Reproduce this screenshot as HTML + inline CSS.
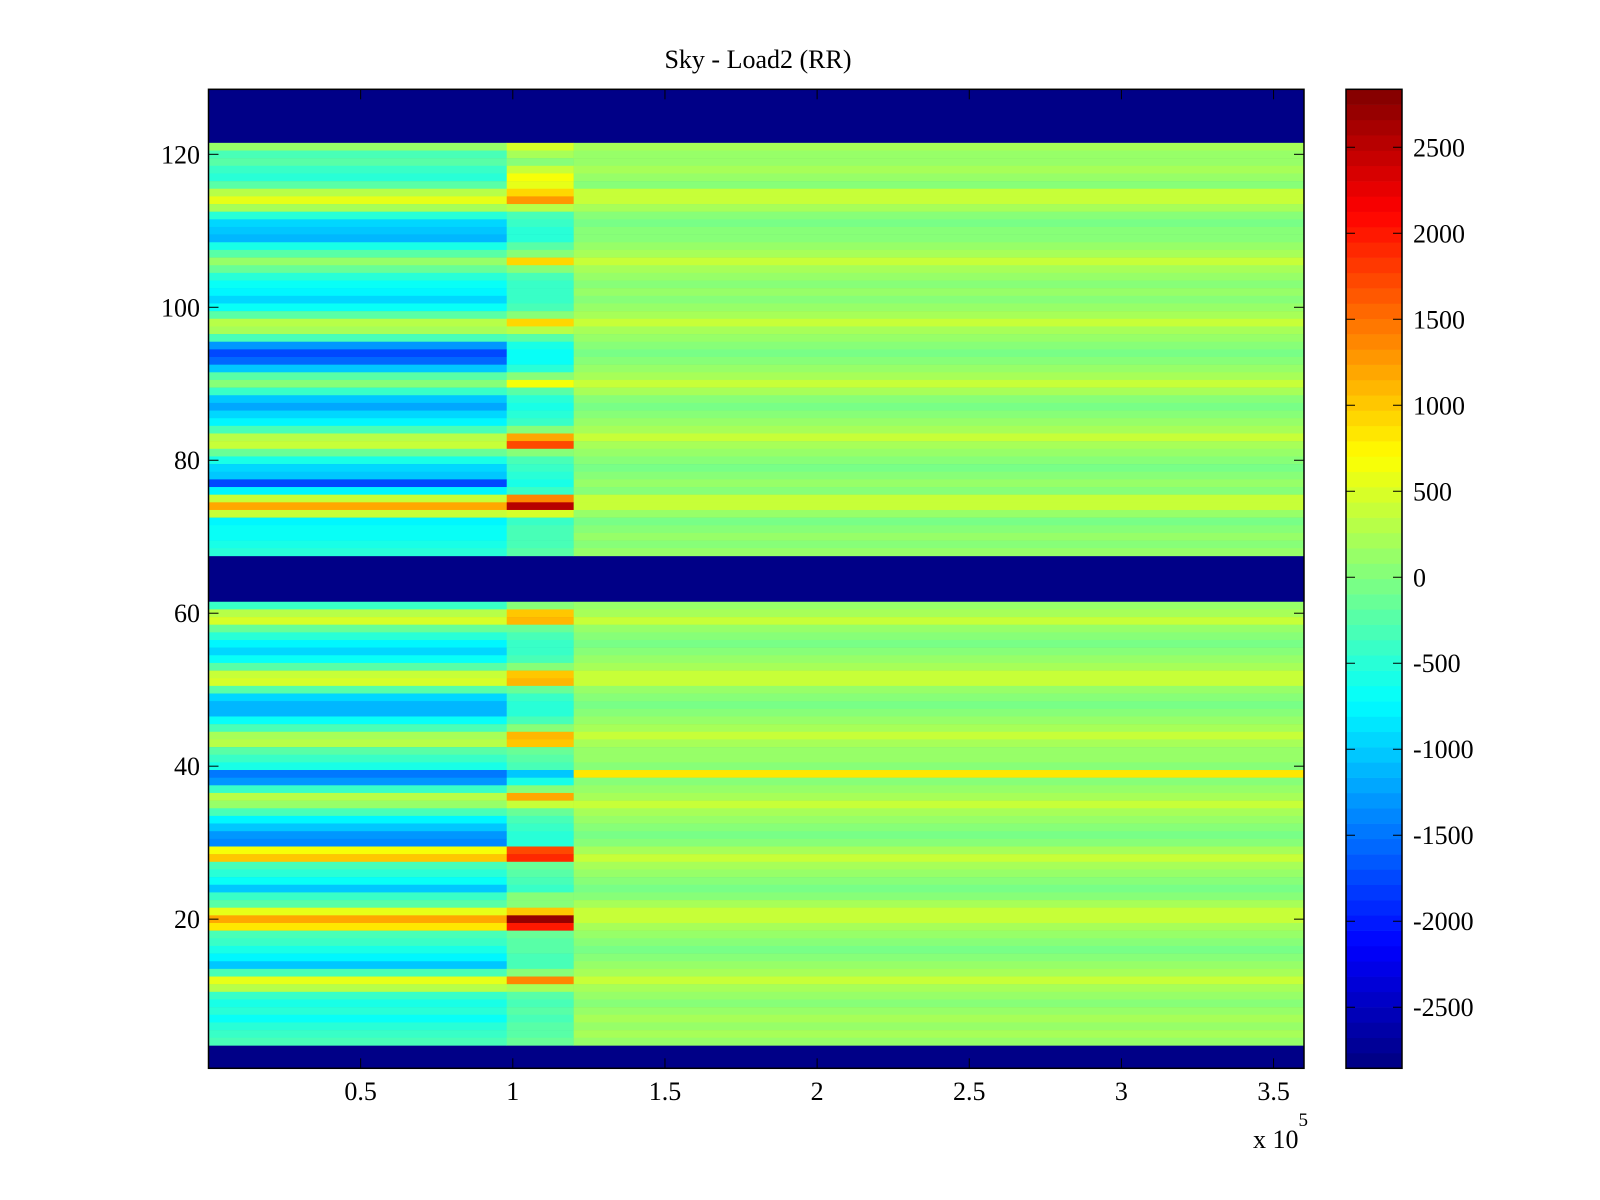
<!DOCTYPE html>
<html><head><meta charset="utf-8"><style>
html,body{margin:0;padding:0;background:#fff;}
svg{display:block;}
text{font-family:"Liberation Serif",serif;font-size:26px;fill:#000;}
</style></head><body>
<svg id="chart" width="1600" height="1200" viewBox="0 0 1600 1200">
<text x="758" y="68" text-anchor="middle" font-size="27">Sky - Load2 (RR)</text>
<g id="cells"></g>
<g id="cbar"></g>
<g id="axes"></g>
<text x="1253" y="1148">x 10<tspan dy="-22" font-size="19">5</tspan></text>
</svg>
<script>
const rowNums = [121,120,119,118,117,116,115,114,113,112,111,110,109,108,107,106,105,104,103,102,101,100,99,98,97,96,95,94,93,92,91,90,89,88,87,86,85,84,83,82,81,80,79,78,77,76,75,74,73,72,71,70,69,68,
61,60,59,58,57,56,55,54,53,52,51,50,49,48,47,46,45,44,43,42,41,40,39,38,37,36,35,34,33,32,31,30,29,28,27,26,25,24,23,22,21,20,19,18,17,16,15,14,13,12,11,10,9,8,7,6,5,4];
const segEdges = [0, 0.98e5, 1.2e5, 3.6e5];
const segA = [100,-300,-200,-400,-500,-200,300,600,200,-500,
-900,-1000,-1100,-600,-200,100,-100,-500,-700,-800,
-900,-700,-200,300,200,-300,-1300,-1700,-1600,-1000,
-200,0,-400,-1000,-1200,-900,-800,-300,300,400,
-100,-600,-900,-1000,-1700,-800,400,1200,400,-800,
-700,-700,-600,-500,
-400,300,500,-100,-500,-800,-900,-700,-200,400,
500,-200,-900,-1100,-1100,-700,-300,200,300,-200,
-400,-600,-1500,-1300,-400,300,100,-300,-800,-1000,
-1300,-1400,700,1000,-300,-500,-700,-1000,-400,-200,
600,1200,800,-300,-400,-600,-800,-1000,-300,600,
300,-400,-600,-500,-700,-500,-400,-300];
const segB = [500,200,0,400,700,600,900,1300,300,-300,
-400,-500,-500,-200,0,900,0,-300,-400,-400,
-400,-300,0,900,300,-200,-600,-700,-700,-500,
0,700,-200,-500,-600,-500,-400,0,1200,1700,
0,-300,-400,-500,-600,-400,1400,2500,500,-400,
-300,-300,-300,-200,
0,1000,1100,-100,-300,-400,-400,-300,0,1000,
1100,-100,-400,-500,-500,-300,0,1100,1000,-100,
-200,-300,-1000,-600,0,1200,400,-100,-300,-400,
-500,-500,1700,1900,-100,-200,-300,-400,0,0,
1000,2700,2000,-100,-200,-200,-300,-300,0,1400,
200,-200,-300,-200,-300,-200,-200,-100];
const segC = [250,150,150,250,150,50,350,350,250,50,
-50,50,50,150,250,350,250,150,50,150,
50,150,250,350,250,150,50,-50,50,150,
250,350,250,50,-50,50,150,250,350,250,
150,50,-50,50,150,50,350,350,150,-50,
50,150,50,150,
150,250,350,150,50,-50,50,150,250,350,
350,150,50,-50,50,150,250,350,250,150,
150,50,800,50,150,250,350,250,150,50,
-50,50,250,350,250,150,50,-50,50,250,
350,350,250,150,50,-50,50,150,250,350,
250,150,50,150,250,150,250,150];
const xTicks = [0.5e5,1e5,1.5e5,2e5,2.5e5,3e5,3.5e5];
const xTickLabels = ["0.5","1","1.5","2","2.5","3","3.5"];
const yTicks = [20,40,60,80,100,120];
const cTicks = [-2500,-2000,-1500,-1000,-500,0,500,1000,1500,2000,2500];
const cMin = -2855, cMax = 2837;

const L=208.5,R=1304,T=89.3,B=1068.3;
const xMin=0,xMax=3.6e5,yMin=0.5,yMax=128.5;
const X=v=>L+(v-xMin)/(xMax-xMin)*(R-L);
const Y=v=>B-(v-yMin)/(yMax-yMin)*(B-T);
const CB={l:1346,r:1402,t:89.3,b:1068.3};
const CY=v=>CB.b-(v-cMin)/(cMax-cMin)*(CB.b-CB.t);
function jet(t){t=Math.max(0,Math.min(1,t));
 const f=x=>Math.max(0,Math.min(1,x));
 const r=f(1.5-Math.abs(4*t-3)),g=f(1.5-Math.abs(4*t-2)),b=f(1.5-Math.abs(4*t-1));
 return `rgb(${Math.round(r*255)},${Math.round(g*255)},${Math.round(b*255)})`;}
function col(v){const idx=Math.min(63,Math.floor((v-cMin)/(cMax-cMin)*64));return jet((idx+0.5)/64);}
const NS="http://www.w3.org/2000/svg";
function mk(tag,attrs,parent){const e=document.createElementNS(NS,tag);for(const k in attrs)e.setAttribute(k,attrs[k]);parent.appendChild(e);return e;}
const cells=document.getElementById('cells');
const bg=mk('rect',{x:L,y:T,width:R-L,height:B-T,fill:col(cMin)},cells);


const segs=[segA,segB,segC];
rowNums.forEach((rn,i)=>{
 segs.forEach((s,j)=>{
  const x0=X(segEdges[j]),x1=X(segEdges[j+1]);
  const r=mk('rect',{x:x0,y:Y(rn+0.5),width:x1-x0+0.3,height:Y(rn-0.5)-Y(rn+0.5)+0.3,fill:col(s[i])},cells);
  
  
 });
});
const axes=document.getElementById('axes');
const frame=mk('rect',{x:L,y:T,width:R-L,height:B-T,fill:'none',stroke:'#000','stroke-width':1.5},axes);


xTicks.forEach((v,i)=>{
 const x=X(v);
 mk('line',{x1:x,x2:x,y1:B,y2:B-10,stroke:'#000'},axes);
 mk('line',{x1:x,x2:x,y1:T,y2:T+10,stroke:'#000'},axes);
 const t=mk('text',{x:x,y:1100,'text-anchor':'middle'},axes);
 t.textContent=xTickLabels[i];
 
 
});
yTicks.forEach(v=>{
 const y=Y(v);
 mk('line',{x1:L,x2:L+10,y1:y,y2:y,stroke:'#000'},axes);
 mk('line',{x1:R,x2:R-10,y1:y,y2:y,stroke:'#000'},axes);
 const t=mk('text',{x:200,y:y+9,'text-anchor':'end'},axes);
 t.textContent=String(v);
 
 
});
const cbar=document.getElementById('cbar');
for(let k=0;k<64;k++){
 const v0=cMin+k*(cMax-cMin)/64,v1=cMin+(k+1)*(cMax-cMin)/64;
 const r=mk('rect',{x:CB.l,y:CY(v1),width:CB.r-CB.l,height:CY(v0)-CY(v1)+0.3,fill:jet((k+0.5)/64)},cbar);
 
 
}
mk('rect',{x:CB.l,y:CB.t,width:CB.r-CB.l,height:CB.b-CB.t,fill:'none',stroke:'#000','stroke-width':1.5},cbar);
cTicks.forEach(v=>{
 const y=CY(v);
 mk('line',{x1:CB.l,x2:CB.l+9,y1:y,y2:y,stroke:'#000'},cbar);
 mk('line',{x1:CB.r,x2:CB.r-9,y1:y,y2:y,stroke:'#000'},cbar);
 const t=mk('text',{x:1413,y:y+9},cbar);
 t.textContent=String(v);
 
 
});
</script>
</body></html>
